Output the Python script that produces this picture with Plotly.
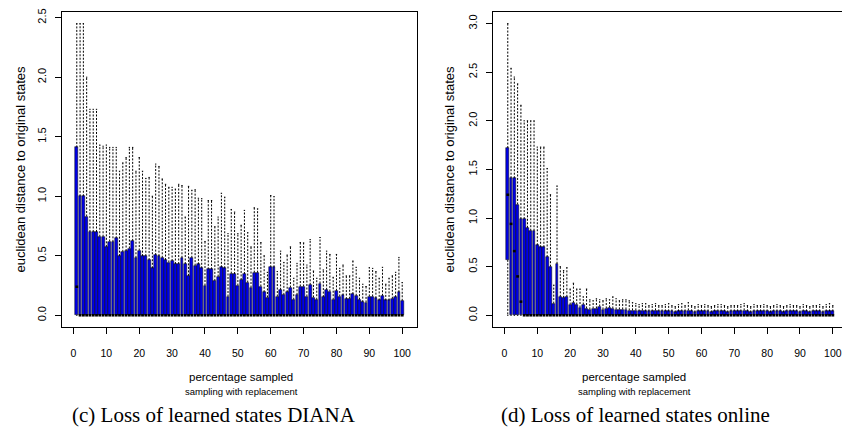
import plotly.graph_objects as go

W, H = 842, 430

pct = list(range(1, 101))
x_ticks = [0, 10, 20, 30, 40, 50, 60, 70, 80, 90, 100]

# ---- DIANA: box statistics per sampled percentage ----
diana_upper = [
    1.41, 1.00, 1.00, 0.83, 0.70, 0.70, 0.70, 0.66, 0.66, 0.575,
    0.62, 0.617, 0.647, 0.497, 0.533, 0.54, 0.561, 0.625, 0.483, 0.544,
    0.497, 0.497, 0.464, 0.395, 0.506, 0.497, 0.483, 0.464, 0.444, 0.456,
    0.431, 0.431, 0.483, 0.431, 0.331, 0.483, 0.417, 0.428, 0.395, 0.25,
    0.386, 0.386, 0.289, 0.325, 0.403, 0.395, 0.158, 0.35, 0.347, 0.25,
    0.297, 0.347, 0.275, 0.233, 0.358, 0.358, 0.242, 0.194, 0.15, 0.403,
    0.403, 0.158, 0.214, 0.172, 0.194, 0.233, 0.131, 0.172, 0.242, 0.242,
    0.158, 0.256, 0.15, 0.131, 0.267, 0.153, 0.214, 0.20, 0.131, 0.206,
    0.158, 0.167, 0.136, 0.139, 0.178, 0.164, 0.131, 0.111, 0.108, 0.158,
    0.158, 0.144, 0.125, 0.164, 0.125, 0.125, 0.139, 0.153, 0.194, 0.122,
]
diana_max = [
    2.45, 2.45, 2.45, 2.00, 1.73, 1.73, 1.73, 1.43, 1.42, 1.43,
    1.41, 1.41, 1.41, 1.21, 1.28, 1.325, 1.41, 1.41, 1.21, 1.325,
    1.21, 1.15, 1.158, 1.00, 1.27, 1.25, 1.145, 1.10, 1.075, 1.075,
    1.06, 1.10, 1.09, 0.825, 1.083, 1.05, 1.055, 0.983, 0.98, 0.62,
    0.964, 0.964, 0.744, 0.825, 1.025, 0.992, 0.686, 0.889, 0.867, 0.686,
    0.756, 0.881, 0.694, 0.575, 0.903, 0.894, 0.611, 0.50, 0.361, 1.006,
    0.997, 0.367, 0.539, 0.444, 0.506, 0.575, 0.311, 0.436, 0.611, 0.608,
    0.422, 0.636, 0.372, 0.311, 0.653, 0.381, 0.539, 0.511, 0.319, 0.511,
    0.394, 0.422, 0.331, 0.331, 0.456, 0.403, 0.311, 0.261, 0.242, 0.40,
    0.394, 0.367, 0.311, 0.403, 0.261, 0.311, 0.331, 0.361, 0.486, 0.275,
]
diana_median = [
    0.24, 0, 0, 0, 0, 0, 0, 0, 0, 0,
    0, 0, 0, 0, 0, 0, 0, 0, 0, 0,
    0, 0, 0, 0, 0, 0, 0, 0, 0, 0,
    0, 0, 0, 0, 0, 0, 0, 0, 0, 0,
    0, 0, 0, 0, 0, 0, 0, 0, 0, 0,
    0, 0, 0, 0, 0, 0, 0, 0, 0, 0,
    0, 0, 0, 0, 0, 0, 0, 0, 0, 0,
    0, 0, 0, 0, 0, 0, 0, 0, 0, 0,
    0, 0, 0, 0, 0, 0, 0, 0, 0, 0,
    0, 0, 0, 0, 0, 0, 0, 0, 0, 0,
]
diana_lower = [0.0] * 100
diana_min = [0.0] * 100

# ---- online: box statistics per sampled percentage ----
online_upper = [
    1.72, 1.41, 1.41, 1.14, 0.99, 0.99, 0.90, 0.87, 0.87, 0.72,
    0.70, 0.70, 0.60, 0.50, 0.12, 0.53, 0.19, 0.18, 0.19, 0.11,
    0.13, 0.11, 0.08, 0.11, 0.07, 0.06, 0.07, 0.07, 0.09, 0.06,
    0.07, 0.08, 0.07, 0.06, 0.06, 0.06, 0.06, 0.05, 0.05, 0.05,
    0.04, 0.05, 0.04, 0.04, 0.04, 0.05, 0.04, 0.04, 0.04, 0.04,
    0.04, 0.03, 0.04, 0.04, 0.04, 0.05, 0.04, 0.03, 0.04, 0.04,
    0.04, 0.04, 0.03, 0.04, 0.04, 0.04, 0.04, 0.03, 0.04, 0.04,
    0.04, 0.04, 0.05, 0.04, 0.03, 0.04, 0.04, 0.04, 0.04, 0.04,
    0.03, 0.04, 0.04, 0.04, 0.03, 0.04, 0.04, 0.04, 0.04, 0.03,
    0.04, 0.04, 0.03, 0.04, 0.04, 0.04, 0.03, 0.04, 0.04, 0.04,
]
online_max = [
    3.00, 2.54, 2.45, 2.38, 2.16, 2.00, 2.00, 2.00, 2.00, 1.73,
    1.73, 1.73, 1.51, 1.24, 0.31, 1.33, 0.50, 0.46, 0.49, 0.27,
    0.33, 0.27, 0.27, 0.19, 0.27, 0.16, 0.15, 0.17, 0.16, 0.15,
    0.17, 0.16, 0.19, 0.17, 0.15, 0.16, 0.16, 0.15, 0.13, 0.12,
    0.11, 0.12, 0.12, 0.10, 0.11, 0.12, 0.10, 0.10, 0.11, 0.12,
    0.10, 0.09, 0.11, 0.12, 0.10, 0.13, 0.10, 0.09, 0.11, 0.10,
    0.11, 0.10, 0.09, 0.10, 0.11, 0.11, 0.10, 0.09, 0.10, 0.10,
    0.10, 0.11, 0.12, 0.10, 0.09, 0.11, 0.10, 0.10, 0.11, 0.10,
    0.09, 0.10, 0.11, 0.10, 0.09, 0.10, 0.11, 0.10, 0.10, 0.09,
    0.11, 0.10, 0.09, 0.10, 0.10, 0.11, 0.09, 0.11, 0.12, 0.10,
]
online_median = [
    1.24, 0.94, 0.66, 0.40, 0.14, 0, 0, 0, 0, 0,
    0, 0, 0, 0, 0, 0, 0, 0, 0, 0,
    0, 0, 0, 0, 0, 0, 0, 0, 0, 0,
    0, 0, 0, 0, 0, 0, 0, 0, 0, 0,
    0, 0, 0, 0, 0, 0, 0, 0, 0, 0,
    0, 0, 0, 0, 0, 0, 0, 0, 0, 0,
    0, 0, 0, 0, 0, 0, 0, 0, 0, 0,
    0, 0, 0, 0, 0, 0, 0, 0, 0, 0,
    0, 0, 0, 0, 0, 0, 0, 0, 0, 0,
    0, 0, 0, 0, 0, 0, 0, 0, 0, 0,
]
online_lower = [0.57] + [0.0] * 99
online_min = [0.0] * 100

BOX_FILL = "#0000E6"
SANS = "Liberation Sans, Arial, sans-serif"
SERIF = "Liberation Serif, DejaVu Serif, serif"
BOX_W = 0.86
STAPLE_W = 0.2


def segs_vertical(xs, y0s, y1s):
    xx, yy = [], []
    for x, a, b in zip(xs, y0s, y1s):
        if b != a:
            xx += [x, x, None]
            yy += [a, b, None]
    return xx, yy


def segs_horizontal(xs, ys, half):
    xx, yy = [], []
    for x, y in zip(xs, ys):
        xx += [x - half, x + half, None]
        yy += [y, y, None]
    return xx, yy


def add_boxplot(fig, lower, upper, med, lo, hi, xa, ya):
    fig.add_trace(go.Bar(
        x=pct, y=[u - l for u, l in zip(upper, lower)], base=lower,
        width=BOX_W, marker=dict(color=BOX_FILL, line=dict(color="black", width=0.5)),
        xaxis=xa, yaxis=ya, hoverinfo="skip", showlegend=False))
    # dashed whiskers
    wx1, wy1 = segs_vertical(pct, upper, hi)
    wx2, wy2 = segs_vertical(pct, lower, lo)
    fig.add_trace(go.Scatter(
        x=wx1 + wx2, y=wy1 + wy2, mode="lines",
        line=dict(color="black", width=1, dash="2px,1.5px"),
        xaxis=xa, yaxis=ya, hoverinfo="skip", showlegend=False))
    # staples
    sx1, sy1 = segs_horizontal(pct, hi, STAPLE_W)
    sx2, sy2 = segs_horizontal(pct, lo, STAPLE_W)
    fig.add_trace(go.Scatter(
        x=sx1 + sx2, y=sy1 + sy2, mode="lines",
        line=dict(color="black", width=1),
        xaxis=xa, yaxis=ya, hoverinfo="skip", showlegend=False))
    # medians
    mx, my = segs_horizontal(pct, med, BOX_W / 2)
    fig.add_trace(go.Scatter(
        x=mx, y=my, mode="lines", line=dict(color="black", width=2.5),
        xaxis=xa, yaxis=ya, hoverinfo="skip", showlegend=False))


fig = go.Figure()
add_boxplot(fig, diana_lower, diana_upper, diana_median, diana_min, diana_max, "x", "y")
add_boxplot(fig, online_lower, online_upper, online_median, online_min, online_max, "x2", "y2")

ydom = [(H - 326) / H, (H - 8) / H]
xcommon = dict(
    tickmode="array", tickvals=x_ticks, ticks="outside", ticklen=6, tickcolor="black",
    showgrid=False, zeroline=False, showline=True, linecolor="black", linewidth=1,
    tickfont=dict(family=SANS, size=10.5, color="black"), ticklabelstandoff=10,
    ticklabeloverflow="allow",
)
ycommon = dict(
    ticks="outside", ticklen=6, tickcolor="black", tickangle=-90,
    showgrid=False, zeroline=False, showline=True, linecolor="black", linewidth=1,
    tickfont=dict(family=SANS, size=11, color="black"), tickformat=".1f",
    ticklabelstandoff=5, domain=ydom,
)

fig.update_layout(
    width=W, height=H, margin=dict(l=0, r=0, t=0, b=0),
    paper_bgcolor="white", plot_bgcolor="white", bargap=0,
    xaxis=dict(domain=[62 / W, 417 / W], range=[-3.5, 104.5], mirror=True, anchor="y", **xcommon),
    yaxis=dict(range=[-0.098, 2.548], tickvals=[0, 0.5, 1.0, 1.5, 2.0, 2.5],
               mirror=True, anchor="x", **ycommon),
    xaxis2=dict(domain=[493 / W, 1.0], range=[-3.5, 102.8], mirror=True, anchor="y2", **xcommon),
    yaxis2=dict(range=[-0.12, 3.12], tickvals=[0, 0.5, 1.0, 1.5, 2.0, 2.5, 3.0],
                mirror=False, anchor="x2", **ycommon),
)


def px_ann(text, x, y, size, angle=0, family=SANS):
    fig.add_annotation(
        text=text, x=x / W, y=1 - y / H, xref="paper", yref="paper",
        showarrow=False, textangle=angle, xanchor="center", yanchor="middle",
        font=dict(family=family, size=size, color="black"))


for cx in (241, 634):
    px_ann("percentage sampled", cx, 377, 11.5)
    px_ann("sampling with replacement", cx, 391, 9.5)
px_ann("euclidean distance to original states", 20, 167, 13, -90)
px_ann("euclidean distance to original states", 449, 167, 13, -90)
px_ann("(c) Loss of learned states DIANA", 214, 415, 21, family=SERIF)
px_ann("(d) Loss of learned states online", 635, 415, 21, family=SERIF)

fig.write_html("out.html")
